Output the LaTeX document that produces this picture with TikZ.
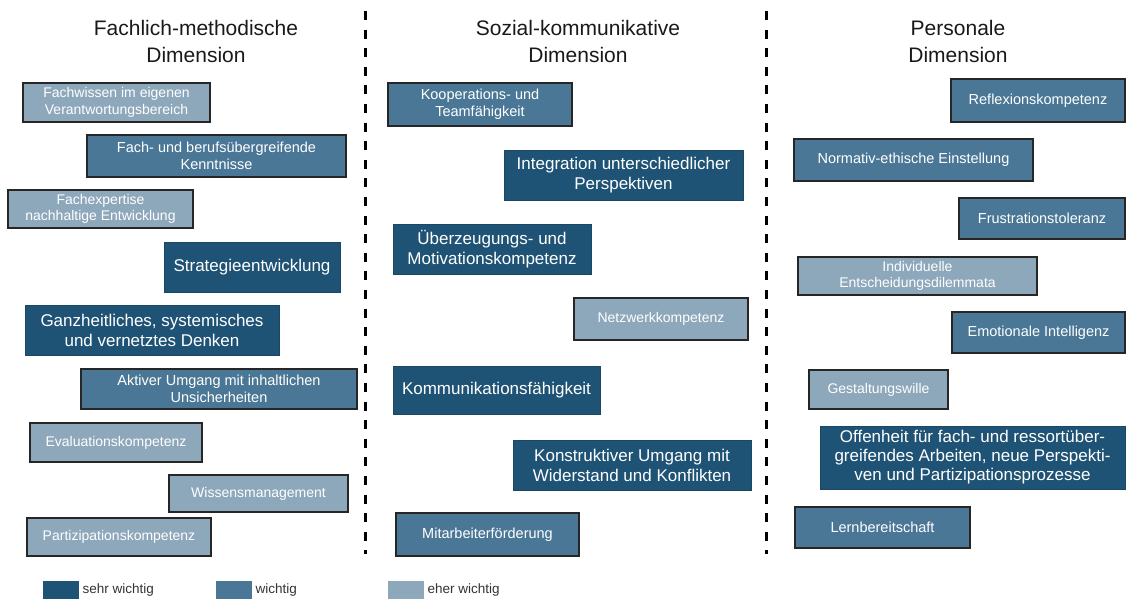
\documentclass[tikz,border=0pt]{standalone}
\usepackage{fontspec}
\setmainfont{Liberation Sans}
\usepackage{tikz}
\usetikzlibrary{positioning}

\definecolor{sehr}{RGB}{31,83,117}
\definecolor{mittel}{RGB}{74,119,150}
\definecolor{eher}{RGB}{141,167,187}

\begin{document}
\begin{tikzpicture}[x=1pt, y=-1pt,
    kasten/.style={rectangle, align=center, text=white, inner sep=0pt},
    mass/.style 2 args={minimum width=#1pt, minimum height=#2pt},
    sehrbox/.style={kasten, fill=sehr, draw=sehr!85!black, line width=0.8pt, font=\fontsize{17}{20}\selectfont},
    wichtigbox/.style={kasten, fill=mittel, draw=black!85, line width=1.5pt, font=\fontsize{14.5}{17}\selectfont},
    eherbox/.style={kasten, fill=eher, draw=black!85, line width=1.5pt, font=\fontsize{14}{16.5}\selectfont},
    titel/.style={align=center, text=black!90, font=\fontsize{21}{27}\selectfont},
    trenner/.style={line width=3pt, dash pattern=on 9pt off 9.6pt},
    legende/.style={text=black!80, font=\fontsize{13.5}{16}\selectfont, inner sep=0pt}]

    \useasboundingbox (0,0) rectangle (1126,601);

    % Ueberschriften
    \node[titel] (fm) at (196,41) {Fachlich-methodische\\Dimension};
    \node[titel] (sk) at (578,41) {Sozial-kommunikative\\Dimension};
    \node[titel] (pd) at (958,41) {Personale\\Dimension};

    % Trennlinien
    \foreach \x/\n in {365.5/a, 766/b}{
        \coordinate (oben\n) at (\x,11);
        \coordinate (unten\n) at (\x,554);
        \draw[trenner] (oben\n) -- (unten\n);
    }

    % Fachlich-methodisch
    \node[eherbox, mass={187}{39}] (fachwissen) at (116.5,102.5) {Fachwissen im eigenen\\Verantwortungsbereich};
    \node[wichtigbox, mass={259}{42}] (fachber) at (216.5,156) {Fach- und berufsübergreifende\\Kenntnisse};
    \node[eherbox, mass={185}{38}] (fachexp) at (100.5,209) {Fachexpertise\\nachhaltige Entwicklung};
    \node[sehrbox, mass={176}{50}] (strategie) at (252,267) {Strategieentwicklung};
    \node[sehrbox, mass={254}{50}] (ganzheit) at (152,330) {Ganzheitliches, systemisches\\und vernetztes Denken};
    \node[wichtigbox, mass={276}{40}] (aktiv) at (219,389) {Aktiver Umgang mit inhaltlichen\\Unsicherheiten};
    \node[eherbox, mass={172}{39}] (evaluation) at (116,442.5) {Evaluationskompetenz};
    \node[eherbox, mass={179}{37}] (wissen) at (258.5,493.5) {Wissensmanagement};
    \node[eherbox, mass={184}{38}] (partizipation) at (119,537) {Partizipationskompetenz};

    % Sozial-kommunikativ
    \node[wichtigbox, mass={184}{43}] (kooperation) at (480,104.5) {Kooperations- und\\Teamfähigkeit};
    \node[sehrbox, mass={239}{50}] (integration) at (623.5,175) {Integration unterschiedlicher\\Perspektiven};
    \node[sehrbox, mass={198}{50}] (ueberzeugung) at (492,249) {Überzeugungs- und\\Motivationskompetenz};
    \node[eherbox, mass={174}{42}] (netzwerk) at (661,319) {Netzwerkkompetenz};
    \node[sehrbox, mass={207}{48}] (kommunikation) at (496.5,390) {Kommunikationsfähigkeit};
    \node[sehrbox, mass={238}{50}] (konstruktiv) at (632,465) {Konstruktiver Umgang mit\\Widerstand und Konflikten};
    \node[wichtigbox, mass={183}{43}] (mitarbeiter) at (487.5,534.5) {Mitarbeiterförderung};

    % Personal
    \node[wichtigbox, mass={174}{43}] (reflexion) at (1038,100.5) {Reflexionskompetenz};
    \node[wichtigbox, mass={239}{42}] (normativ) at (913.5,160) {Normativ-ethische Einstellung};
    \node[wichtigbox, mass={166}{41}] (frustration) at (1042,218.5) {Frustrationstoleranz};
    \node[eherbox, mass={239}{38}] (individuell) at (917.5,276) {Individuelle\\Entscheidungsdilemmata};
    \node[wichtigbox, mass={173}{41}] (emotional) at (1038.5,332.5) {Emotionale Intelligenz};
    \node[eherbox, mass={139}{39}] (gestaltung) at (878.5,389.5) {Gestaltungswille};
    \node[sehrbox, mass={305}{63}, font=\fontsize{17}{19}\selectfont] (offenheit) at (972.5,457.5) {Offenheit für fach- und ressortüber-\\greifendes Arbeiten, neue Perspekti-\\ven und Partizipationsprozesse};
    \node[wichtigbox, mass={175}{41}] (lernen) at (882.5,527.5) {Lernbereitschaft};

    % Legende
    \foreach \farbe/\x/\txt in {sehr/43/sehr wichtig, mittel/216/wichtig, eher/388/eher wichtig}{
        \node[fill=\farbe, mass={36}{18}, inner sep=0pt, anchor=west] (leg\farbe) at (\x,590) {};
        \node[legende, right=3pt of leg\farbe] (txt\farbe) {\txt};
    }
\end{tikzpicture}
\end{document}
